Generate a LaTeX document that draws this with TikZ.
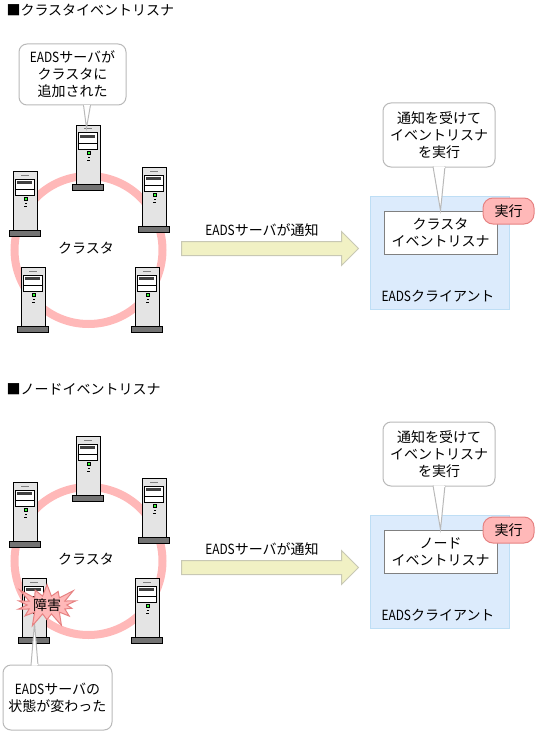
\documentclass[tikz,border=0pt]{standalone}
\usepackage{fontspec}
\setmainfont{Noto Sans CJK JP}
\newfontface\narrowface[FakeStretch=0.85]{Noto Sans CJK JP}
\newcommand{\eads}{{\narrowface EADS}}
\usetikzlibrary{positioning, calc, shapes.arrows, shapes.symbols}
\definecolor{ringpink}{RGB}{255,184,184}
\definecolor{redline}{RGB}{230,130,130}
\definecolor{bubbleline}{RGB}{185,185,185}
\definecolor{clientfill}{RGB}{220,235,252}
\definecolor{clientline}{RGB}{190,222,245}
\definecolor{arrowfill}{RGB}{241,241,196}
\definecolor{arrowline}{RGB}{200,200,180}
\definecolor{bodygray}{RGB}{228,228,228}
\tikzset{
    server/.pic={
        \node[draw=black, fill=bodygray, minimum width=24pt, minimum height=59pt, inner sep=0pt, anchor=north west] (-body) at (0,0) {};
        \fill[black!55] (-4,59) rectangle (27,65);
        \draw[black] (-4,59) rectangle (27,65);
        \draw[black!50] (8,4) -- (16,4);
        \draw[black, fill=white] (2,8) rectangle (21,24);
        \fill[black!75] (3.5,9.5) rectangle (19,12.5);
        \draw[black] (2,18) -- (21,18);
        \draw[black, fill=green!80!white] (11,26.5) rectangle (14,29.5);
        \fill[black] (12,31.5) rectangle (13.5,33);
        \fill[black] (11,34.5) rectangle (14,36);
    }
}
\begin{document}
\begin{tikzpicture}[
        x=1pt, y=-1pt, line width=1pt,
        every node/.style={font=\fontsize{14}{17}\selectfont, align=center, inner sep=0pt},
        ring/.style={circle, draw=ringpink, line width=8pt, minimum size=148pt},
        bubble/.style={rectangle, draw=bubbleline, fill=white, rounded corners=8pt},
        tail/.style={draw=bubbleline, fill=white},
        client/.style={rectangle, draw=clientline, fill=clientfill, minimum width=139pt, minimum height=113pt},
        listener/.style={rectangle, draw=black!50, fill=white, minimum width=113pt, minimum height=43pt},
        runmark/.style={rectangle, draw=redline, fill=ringpink, rounded corners=10pt, minimum width=51pt, minimum height=26pt},
        notify/.style={single arrow, draw=arrowline, fill=arrowfill, minimum height=177pt, inner ysep=6.5pt, single arrow head extend=10pt},
        burst/.style={starburst, starburst points=14, starburst point height=16pt, draw=redline, fill=ringpink, minimum width=60pt, minimum height=44pt}
    ]
        \useasboundingbox (0,0) rectangle (537,733);

        % Cluster listener
        \node[anchor=west] (T1) at (6,10.5) {■クラスタイベントリスナ};
        \node[ring] (R1) at (88.5,250) {};
        \node (C1) at (86,248.5) {クラスタ};
        \pic (S1) at (76,125) {server};
        \pic (S2) at (13,171) {server};
        \pic (S3) at (142,167) {server};
        \pic (S4) at (21,267) {server};
        \pic (S5) at (135,267) {server};
        \draw[tail] ($(S1-body.north)+(-5,-20)$) -- ($(S1-body.north)+(-2,3)$) -- ($(S1-body.north)+(2,-20)$);
        \node[bubble, minimum width=107pt, minimum height=61pt] (B1) at (72.5,74.5) {\eads サーバが\\クラスタに\\追加された};
        \draw[white, line width=1.5pt] ($(B1.south)+(11,0)$) -- ($(B1.south)+(17,0)$);

        \node[notify] (A1) at (266.5,248.5) {};
        \node[above=11pt of A1.center, xshift=-4.5pt] (L1) {\eads サーバが通知};

        \node[client] (K1) at (439.5,252.5) {};
        \node[listener] (N1) at (440.5,232.5) {クラスタ\\イベントリスナ};
        \node[runmark] (E1) at (508.5,211) {実行};
        \node (K1L) at (438,296) {\eads クライアント};
        \node[bubble, minimum width=112pt, minimum height=64pt] (B2) at (439,135) {通知を受けて\\イベントリスナ\\を実行};
        \draw[tail] ($(B2.south)+(-6,-1)$) -- (N1.north) -- ($(B2.south)+(6,-1)$);
        \draw[white, line width=1.5pt] ($(B2.south)+(-5.5,0)$) -- ($(B2.south)+(5.5,0)$);

        % Node listener
        \node[anchor=west] (T2) at (6,389.5) {■ノードイベントリスナ};
        \node[ring] (R2) at (88.5,561) {};
        \node (C2) at (86,559.5) {クラスタ};
        \pic (S6) at (76,436) {server};
        \pic (S7) at (13,482) {server};
        \pic (S8) at (142,478) {server};
        \pic (S9) at (22,578) {server};
        \pic (S10) at (135,578) {server};

        \node[bubble, minimum width=109pt, minimum height=65pt] (B3) at (57.5,697.5) {\eads サーバの\\状態が変わった};
        \draw[tail] ($(B3.north)+(-26.5,1)$) -- ($(S9-body.north)+(0,45)$) -- ($(B3.north)+(-19.5,1)$);
        \draw[white, line width=1.5pt] ($(B3.north)+(-26,0)$) -- ($(B3.north)+(-20,0)$);
        \node[burst] (F1) at (47,605) {障害};

        \node[notify] (A2) at (266.5,567.5) {};
        \node[above=11pt of A2.center, xshift=-4.5pt] (L2) {\eads サーバが通知};

        \node[client] (K2) at (439.5,571.5) {};
        \node[listener] (N2) at (440.5,551.5) {ノード\\イベントリスナ};
        \node[runmark] (E2) at (508.5,530) {実行};
        \node (K2L) at (438,615) {\eads クライアント};
        \node[bubble, minimum width=112pt, minimum height=64pt] (B4) at (439,454) {通知を受けて\\イベントリスナ\\を実行};
        \draw[tail] ($(B4.south)+(-6,-1)$) -- (N2.north) -- ($(B4.south)+(6,-1)$);
        \draw[white, line width=1.5pt] ($(B4.south)+(-5.5,0)$) -- ($(B4.south)+(5.5,0)$);
    \end{tikzpicture}
\end{document}
